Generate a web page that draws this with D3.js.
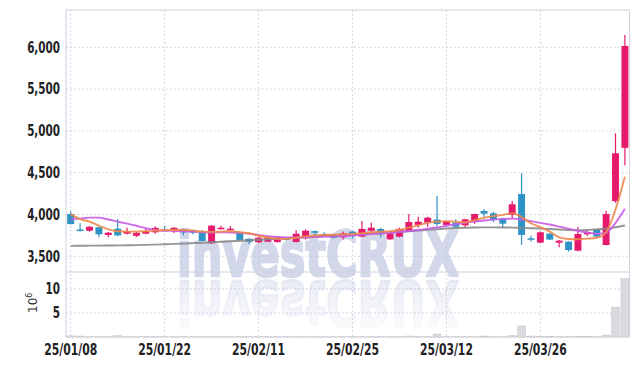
<!DOCTYPE html>
<html>
<head>
<meta charset="utf-8">
<script src="https://cdn.jsdelivr.net/npm/d3@7"></script>
<style>
  body { margin: 0; background: #fff; }
  .tick-label { font-family: "Liberation Sans Narrow", "DejaVu Sans Condensed", sans-serif; font-weight: bold; fill: #222; }
</style>
</head>
<body>
<div class="chart"></div>
<script>
// trading days shown on the chart
const dates = [
  "2025-01-08","2025-01-09","2025-01-10","2025-01-13","2025-01-14","2025-01-15","2025-01-16","2025-01-17","2025-01-20","2025-01-21",
  "2025-01-22","2025-01-23","2025-01-24","2025-01-31","2025-02-03","2025-02-04","2025-02-05","2025-02-06","2025-02-07","2025-02-10",
  "2025-02-11","2025-02-12","2025-02-13","2025-02-14","2025-02-17","2025-02-18","2025-02-19","2025-02-20","2025-02-21","2025-02-24",
  "2025-02-25","2025-02-26","2025-02-27","2025-02-28","2025-03-04","2025-03-05","2025-03-06","2025-03-07","2025-03-10","2025-03-11",
  "2025-03-12","2025-03-13","2025-03-14","2025-03-17","2025-03-18","2025-03-19","2025-03-20","2025-03-21","2025-03-24","2025-03-25",
  "2025-03-26","2025-03-27","2025-03-28","2025-03-31","2025-04-01","2025-04-02","2025-04-03","2025-04-04","2025-04-07","2025-04-08"
];
const open  = [4005,3820,3806,3847,3755,3830,3770,3745,3770,3787, 3820,3800,3820,3810,3787,3655,3823,3811,3787,3710,
               3667,3675,3670,3715,3672,3715,3800,3767,3763,3727, 3795,3735,3806,3827,3703,3735,3795,3875,3902,3939,
               3875,3902,3870,3914,4042,4014,3954,3994,4245,3715, 3663,3770,3663,3675,3567,3763,3823,3635,4160,4797];
const high  = [4035,3895,3860,3850,3790,3945,3840,3790,3830,3860, 3865,3850,3830,3815,3815,3875,3865,3862,3800,3715,
               3730,3735,3735,3725,3810,3822,3805,3787,3770,3795, 3800,3922,3902,3842,3790,3842,4006,3974,3974,4220,
               3925,3942,3950,4010,4066,4034,3960,4161,4492,3746, 3795,3775,3695,3680,3854,3806,3830,4045,4971,6148];
const low   = [3880,3795,3795,3727,3727,3740,3762,3730,3765,3770, 3795,3780,3750,3765,3680,3650,3820,3808,3690,3645,
               3660,3670,3665,3690,3665,3700,3730,3740,3715,3700, 3715,3730,3787,3727,3695,3725,3790,3842,3854,3860,
               3860,3850,3847,3890,3970,3906,3850,3955,3635,3675, 3655,3695,3608,3555,3560,3743,3730,3630,4140,4590];
const close = [3885,3815,3854,3763,3782,3750,3795,3780,3800,3840, 3800,3840,3785,3782,3683,3866,3842,3830,3695,3672,
               3722,3727,3727,3702,3770,3806,3787,3747,3722,3775, 3755,3827,3842,3763,3775,3827,3910,3914,3962,3887,
               3914,3854,3942,4006,4010,3938,3890,4122,3755,3703, 3787,3700,3687,3575,3767,3787,3735,4006,4732,6016];
// volume, millions of shares
const volume = [0.25,0.2,0.05,0.05,0.05,0.3,0.05,0.05,0.05,0.05, 0.05,0.05,0.05,0.05,0.05,0.05,0.05,0.05,0.05,0.05,
                0.05,0.05,0.05,0.05,0.05,0.05,0.05,0.05,0.05,0.05, 0.05,0.05,0.05,0.05,0.05,0.05,0.2,0.05,0.05,0.6,
                0.05,0.05,0.05,0.05,0.2,0.05,0.05,0.3,2.3,0.2, 0.15,0.15,0.05,0.05,0.15,0.15,0.05,0.4,6.2,12.1];
// moving average lines
const maShort = [4005,3945,3915,3865,3822,3800,3795,3795,3800,3808, 3812,3815,3815,3810,3795,3792,3795,3800,3788,3775,
                 3745,3725,3710,3708,3722,3738,3748,3755,3758,3762, 3768,3775,3785,3795,3800,3815,3842,3870,3900,3915,
                 3920,3914,3906,3934,3960,3980,3995,4015,3970,3895, 3850,3795,3727,3707,3703,3711,3722,3790,4060,4450];
const maMid   = [3942,3950,3962,3962,3940,3915,3890,3865,3835,3815, 3806,3803,3800,3795,3788,3785,3787,3785,3780,3770,
                 3755,3740,3730,3725,3725,3727,3732,3736,3738,3740, 3750,3757,3765,3772,3780,3790,3802,3815,3830,3845,
                 3865,3885,3900,3915,3928,3938,3945,3950,3940,3920, 3900,3880,3855,3830,3805,3785,3770,3780,3900,4070];
const maLong  = [3625,3626,3627,3628,3629,3630,3632,3634,3637,3640, 3644,3648,3652,3657,3662,3668,3674,3680,3686,3692,
                 3698,3704,3710,3716,3722,3728,3734,3740,3746,3752, 3758,3765,3772,3779,3786,3793,3800,3808,3816,3824,
                 3832,3838,3842,3845,3846,3846,3845,3843,3840,3836, 3832,3826,3820,3815,3812,3815,3822,3832,3848,3868];
const priceTicks = [3500,4000,4500,5000,5500,6000];
const volTicks = [5,10];

const W = 639, H = 366;
const plot = { left: 66, right: 629.6, top: 10, split: 272, bottom: 337 };
const upColor = "#e61a6c", downColor = "#2e94c6";

const svg = d3.select(".chart")
  .append("svg")
  .attr("width", W)
  .attr("height", H);

const x = d3.scaleBand().domain(dates).range([plot.left, plot.right]).paddingInner(0.26).paddingOuter(0.13);
const cx = d => x(d) + x.bandwidth() / 2;
const y = d3.scaleLinear().domain([3312, 6446]).range([plot.split, plot.top]);
const yv = d3.scaleLinear().domain([0, 13.5]).range([plot.bottom, plot.split]);

// watermark + reflection
const defs = svg.append("defs");
const grad = defs.append("linearGradient").attr("id", "fade").attr("x1", 0).attr("y1", 0).attr("x2", 0).attr("y2", 1);
grad.append("stop").attr("offset", "0%").attr("stop-color", "#d5d9ea").attr("stop-opacity", 0);
grad.append("stop").attr("offset", "100%").attr("stop-color", "#d5d9ea").attr("stop-opacity", 0.6);

const wm = svg.append("g");
wm.append("text")
  .attr("x", 177).attr("y", 276)
  .attr("textLength", 282).attr("lengthAdjust", "spacingAndGlyphs")
  .attr("font-family", "DejaVu Sans, sans-serif")
  .attr("font-weight", "bold").attr("font-size", 63)
  .attr("fill", "#d3d7ea")
  .attr("stroke", "#d3d7ea").attr("stroke-width", 2.5).attr("stroke-linejoin", "round")
  .text("investCRUX");
wm.append("text")
  .attr("transform", "translate(0,557) scale(1,-1)")
  .attr("x", 177).attr("y", 276)
  .attr("textLength", 282).attr("lengthAdjust", "spacingAndGlyphs")
  .attr("font-family", "DejaVu Sans, sans-serif")
  .attr("font-weight", "bold").attr("font-size", 63)
  .attr("fill", "url(#fade)")
  .attr("stroke", "url(#fade)").attr("stroke-width", 2.5).attr("stroke-linejoin", "round")
  .text("investCRUX");

// grid
const labelIdx = d3.range(0, dates.length, 10);
svg.selectAll(".hgrid")
  .data(priceTicks)
  .enter().append("line")
  .attr("x1", plot.left).attr("x2", plot.right)
  .attr("y1", d => y(d)).attr("y2", d => y(d))
  .attr("stroke", "#c5c9dd").attr("stroke-dasharray", "1.5,2.5");
svg.selectAll(".vgridv")
  .data(volTicks)
  .enter().append("line")
  .attr("x1", plot.left).attr("x2", plot.right)
  .attr("y1", d => yv(d)).attr("y2", d => yv(d))
  .attr("stroke", "#c5c9dd").attr("stroke-dasharray", "1.5,2.5");
svg.selectAll(".vgrid")
  .data(labelIdx)
  .enter().append("line")
  .attr("x1", i => cx(dates[i])).attr("x2", i => cx(dates[i]))
  .attr("y1", plot.top).attr("y2", plot.bottom)
  .attr("stroke", "#c5c9dd").attr("stroke-dasharray", "1.5,2.5");

// frame
svg.append("rect")
  .attr("x", plot.left).attr("y", plot.top)
  .attr("width", plot.right - plot.left).attr("height", plot.bottom - plot.top)
  .attr("fill", "none").attr("stroke", "#cfd1dc");
svg.append("line")
  .attr("x1", plot.left).attr("x2", plot.right).attr("y1", plot.split).attr("y2", plot.split)
  .attr("stroke", "#cfd1dc");

// volume bars
svg.selectAll(".vol")
  .data(dates)
  .enter().append("rect")
  .attr("x", d => x(d) - 0.5)
  .attr("y", (d, i) => yv(volume[i]))
  .attr("width", x.bandwidth() + 1)
  .attr("height", (d, i) => plot.bottom - yv(volume[i]))
  .attr("fill", "#d9d9df").attr("stroke", "#c4c4cc").attr("stroke-width", 0.5);

// candles
const candle = svg.selectAll(".candle")
  .data(dates)
  .enter().append("g");
candle.append("line")
  .attr("x1", d => cx(d)).attr("x2", d => cx(d))
  .attr("y1", (d, i) => y(high[i])).attr("y2", (d, i) => y(low[i]))
  .attr("stroke", (d, i) => close[i] >= open[i] ? upColor : downColor)
  .attr("stroke-width", 1.2);
candle.append("rect")
  .attr("x", d => x(d))
  .attr("y", (d, i) => y(Math.max(open[i], close[i])))
  .attr("width", x.bandwidth())
  .attr("height", (d, i) => Math.max(1.5, Math.abs(y(open[i]) - y(close[i]))))
  .attr("fill", (d, i) => close[i] >= open[i] ? upColor : downColor);

// moving averages
const line = d3.line().x((v, i) => cx(dates[i])).y(v => y(v)).curve(d3.curveMonotoneX);
[[maLong, "#888888"], [maMid, "#c95ce6"], [maShort, "#f0874a"]].forEach(([s, c]) => {
  svg.append("path")
    .attr("d", line(s))
    .attr("fill", "none")
    .attr("stroke", c)
    .attr("stroke-width", 1.9)
    .attr("opacity", 0.9);
});

// axis labels (squeezed to look like a condensed face)
function squeeze(sel, k) {
  sel.each(function() {
    const w = this.getComputedTextLength();
    d3.select(this).attr("textLength", w * k).attr("lengthAdjust", "spacingAndGlyphs");
  });
}
svg.selectAll(".ylab")
  .data(priceTicks)
  .enter().append("text")
  .attr("class", "tick-label")
  .attr("x", 60).attr("y", d => y(d))
  .attr("dy", "0.36em")
  .attr("text-anchor", "end")
  .attr("font-size", 15)
  .text(d => d3.format(",")(d))
  .call(squeeze, 0.77);
svg.selectAll(".vlab")
  .data(volTicks)
  .enter().append("text")
  .attr("class", "tick-label")
  .attr("x", 60).attr("y", d => yv(d))
  .attr("dy", "0.36em")
  .attr("text-anchor", "end")
  .attr("font-size", 15)
  .text(d => d)
  .call(squeeze, 0.77);
svg.selectAll(".xlab")
  .data(labelIdx)
  .enter().append("text")
  .attr("class", "tick-label")
  .attr("x", i => cx(dates[i])).attr("y", 355)
  .attr("text-anchor", "middle")
  .attr("font-size", 15)
  .text(i => dates[i].slice(2).replace(/-/g, "/"))
  .call(squeeze, 0.8);

const unit = svg.append("text")
  .attr("transform", "translate(37,313) rotate(-90)")
  .attr("font-family", "DejaVu Sans, sans-serif")
  .attr("font-size", 12)
  .attr("fill", "#333");
unit.append("tspan").text("10");
unit.append("tspan").attr("dy", -5).attr("font-size", 8).text("6");
</script>
</body>
</html>
